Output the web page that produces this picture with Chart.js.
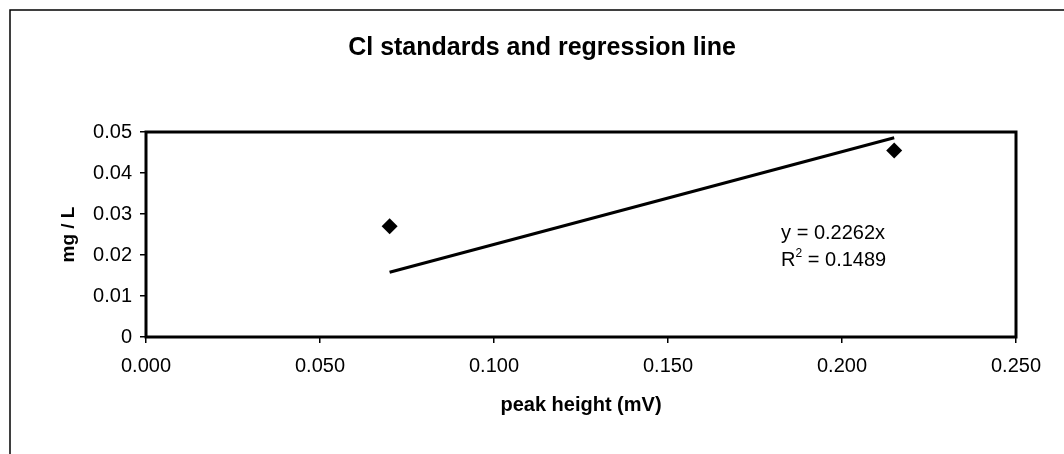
<!DOCTYPE html>
<html>
<head>
<meta charset="utf-8">
<script src="https://cdn.jsdelivr.net/npm/chart.js@4.4.0/dist/chart.umd.min.js"></script>
<style>
  html, body { margin: 0; padding: 0; background: #fff; }
  #wrap { width: 1064px; height: 454px; }
</style>
</head>
<body>
<div id="wrap"><canvas id="chart-area" width="1064" height="454"></canvas></div>
<script>
// standards (peak height mV vs mg/L)
var stdX = [0.070, 0.215];
var stdY = [0.027, 0.0455];
// regression line end points, as drawn
var trendX = [0.070, 0.215];
var trendY = [0.0158, 0.0486];
var xTicks = [0, 0.05, 0.10, 0.15, 0.20, 0.25];
var yTicks = [0, 0.01, 0.02, 0.03, 0.04, 0.05];
var titleText = 'Cl standards and regression line';
var eqText = 'y = 0.2262x';
var r2Text = '0.1489';

var FONT = 'Arial, "Liberation Sans", sans-serif';

var framePlugin = {
  id: 'frame',
  afterDraw: function(chart) {
    var ctx = chart.ctx, a = chart.chartArea;
    ctx.save();
    // plot area box
    ctx.strokeStyle = '#000';
    ctx.lineWidth = 3;
    ctx.strokeRect(a.left, a.top, a.right - a.left, a.bottom - a.top);
    // outer page border (left + top)
    ctx.lineWidth = 1.5;
    ctx.beginPath();
    ctx.moveTo(10, 454);
    ctx.lineTo(10, 10);
    ctx.lineTo(1064, 10);
    ctx.stroke();
    // chart title
    ctx.fillStyle = '#000';
    ctx.font = 'bold 25px ' + FONT;
    ctx.textAlign = 'center';
    ctx.textBaseline = 'middle';
    ctx.fillText(titleText, 542, 48);
    // trendline label
    var xs = chart.scales.x, ys = chart.scales.y;
    var tx = xs.getPixelForValue(0.1825);
    ctx.font = '20px ' + FONT;
    ctx.textAlign = 'left';
    ctx.fillText(eqText, tx, ys.getPixelForValue(0.0253));
    var rY = ys.getPixelForValue(0.0187);
    ctx.fillText('R', tx, rY);
    var w = ctx.measureText('R').width;
    ctx.font = '12px ' + FONT;
    ctx.fillText('2', tx + w, rY - 7);
    var w2 = ctx.measureText('2').width;
    ctx.font = '20px ' + FONT;
    ctx.fillText(' = ' + r2Text, tx + w + w2, rY);
    ctx.restore();
  }
};

var config = {
  type: 'scatter',
  data: {
    datasets: [{
      label: 'standards',
      data: stdX.map(function(x, i) { return { x: x, y: stdY[i] }; }),
      pointStyle: 'rectRot',
      pointRadius: 8,
      backgroundColor: '#000',
      borderColor: '#000',
      borderWidth: 0
    }, {
      label: 'regression',
      type: 'line',
      data: trendX.map(function(x, i) { return { x: x, y: trendY[i] }; }),
      borderColor: '#000',
      borderWidth: 3,
      pointRadius: 0,
      fill: false
    }]
  },
  options: {
    responsive: false,
    animation: false,
    layout: { padding: { left: 0, right: 48, top: 132, bottom: 0 } },
    plugins: {
      legend: { display: false },
      tooltip: { enabled: false },
      title: { display: false }
    },
    scales: {
      x: {
        type: 'linear',
        min: 0, max: 0.25,
        afterBuildTicks: function(s) { s.ticks = xTicks.map(function(v) { return { value: v }; }); },
        afterFit: function(s) { s.height = 117; },
        grid: { display: true, drawOnChartArea: false, drawTicks: true, tickLength: 6, color: '#000', lineWidth: 1.5 },
        border: { display: false },
        ticks: {
          color: '#000', padding: 11,
          font: { family: FONT, size: 20 },
          callback: function(v) { return v.toFixed(3); }
        },
        title: {
          display: true, text: 'peak height (mV)', color: '#000',
          font: { family: FONT, size: 20, weight: 'bold' },
          padding: { top: 0, bottom: 37 }
        }
      },
      y: {
        type: 'linear',
        min: 0, max: 0.05,
        afterBuildTicks: function(s) { s.ticks = yTicks.map(function(v) { return { value: v }; }); },
        afterFit: function(s) { s.width = 146; },
        grid: { display: true, drawOnChartArea: false, drawTicks: true, tickLength: 6, color: '#000', lineWidth: 1.5 },
        border: { display: false },
        ticks: {
          color: '#000', padding: 8,
          font: { family: FONT, size: 20 },
          callback: function(v) { return v === 0 ? '0' : String(Math.round(v * 100) / 100); }
        },
        title: {
          display: true, text: 'mg / L', color: '#000',
          font: { family: FONT, size: 19, weight: 'bold' },
          padding: { top: 57, bottom: 0 }
        }
      }
    }
  },
  plugins: [framePlugin]
};

window.onload = function() {
  var ctx = document.getElementById('chart-area').getContext('2d');
  window.myChart = new Chart(ctx, config);
};
</script>
</body>
</html>
